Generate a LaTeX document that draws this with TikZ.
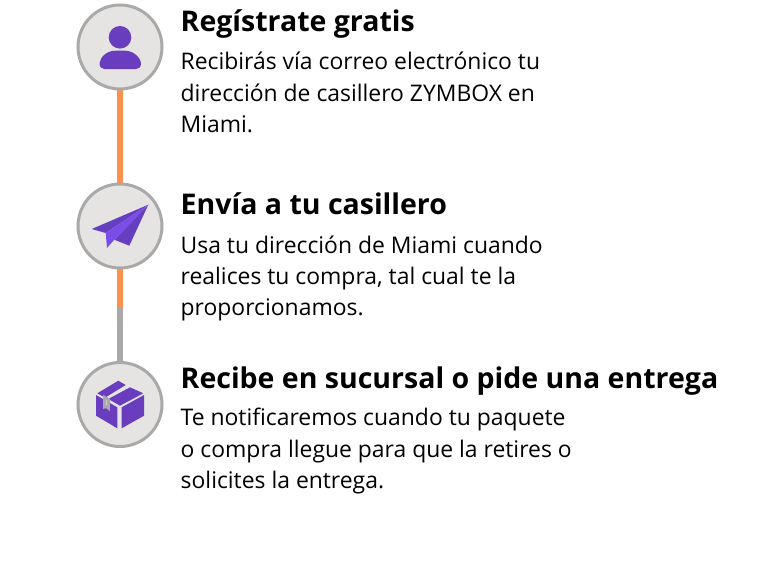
\documentclass[tikz,border=0pt]{standalone}
\usepackage{fontspec}
\setmainfont{Open Sans}
\definecolor{icon}{HTML}{6A3DBE}
\definecolor{iconl}{HTML}{7A4CE8}
\definecolor{iconm}{HTML}{663FC0}
\definecolor{ring}{HTML}{A9A9A9}
\definecolor{disc}{HTML}{E6E4E3}
\definecolor{orangeline}{HTML}{FF914D}
\tikzset{
  x=1pt,y=-1pt,
  disc/.style={circle,draw=ring,fill=disc,line width=3pt,minimum size=84pt,inner sep=0pt},
  head/.style={anchor=base west,inner sep=0pt,font=\fontsize{28.5}{32}\selectfont\bfseries,text=black},
  body/.style={anchor=base west,inner sep=0pt,font=\fontsize{22.9}{31}\selectfont,text=black,align=left},
  link/.style={line width=6.6pt},
}
\begin{document}
\begin{tikzpicture}
\useasboundingbox (0,0) rectangle (768,565);
\fill[white] (0,0) rectangle (768,565);
\coordinate (a) at (120,47);
\coordinate (b) at (120,226);
\coordinate (c) at (120,404.5);
\coordinate (mid) at (120,307);
\draw[link,orangeline] (a) -- (b);
\draw[link,orangeline] (b) -- (mid);
\draw[link,ring] (mid) -- (c);
\node[disc] (n1) at (a) {};
\node[disc] (n2) at (b) {};
\node[disc] (n3) at (c) {};
% person
\fill[icon] (120,37.3) circle (11.3);
\fill[icon] (99.5,63.5) .. controls (100,57) and (107,50.7) .. (115,50.7) -- (125,50.7) .. controls (133,50.7) and (140.5,57) .. (141,63.5) .. controls (141,67) and (139,69) .. (136,69) -- (104.5,69) .. controls (101.5,69) and (99.5,67) .. (99.5,63.5) -- cycle;
% plane
\fill[iconm] (148.3,204.7) -- (91.7,229) -- (105.7,233) -- cycle;
\fill[iconm] (148.3,204.7) -- (114.3,239.7) -- (129.3,245.7) -- cycle;
\fill[iconl] (148.3,204.7) -- (105.7,233) -- (107,248) -- (114.3,239.7) -- cycle;
% box
\fill[icon] (96,395) -- (117.3,407.3) -- (117.3,428.3) -- (96,415.7) -- cycle;
\fill[icon] (121.7,407.3) -- (144,395) -- (144,415.7) -- (121.7,428.3) -- cycle;
\fill[icon] (97.3,393.3) -- (118.3,380.7) -- (125.7,385) -- (105,397.7) -- cycle;
\fill[icon] (130,387.3) -- (143.3,393.3) -- (120,405.7) -- (108.3,399) -- cycle;
\fill[disc] (104.7,397.5) -- (108.3,399.5) -- (108.3,408) -- (106.5,406.6) -- (104.7,407) -- cycle;
% text
\node[head] (t1) at (180.5,31.3) {Regístrate gratis};
\node[body] (d1a) at (180.5,69.3) {Recibirás vía correo electrónico tu};
\node[body] (d1b) at (180.5,101) {dirección de casillero ZYMBOX en};
\node[body] (d1c) at (180.5,132) {Miami.};
\node[head] (t2) at (180.5,214.3) {Envía a tu casillero};
\node[body] (d2a) at (180.5,253) {Usa tu dirección de Miami cuando};
\node[body] (d2b) at (180.5,284.5) {realices tu compra, tal cual te la};
\node[body] (d2c) at (180.5,315.7) {proporcionamos.};
\node[head] (t3) at (180.5,388) {Recibe en sucursal o pide una entrega};
\node[body] (d3a) at (180.5,425.5) {Te notificaremos cuando tu paquete};
\node[body] (d3b) at (180.5,457) {o compra llegue para que la retires o};
\node[body] (d3c) at (180.5,488.5) {solicites la entrega.};
\end{tikzpicture}
\end{document}
